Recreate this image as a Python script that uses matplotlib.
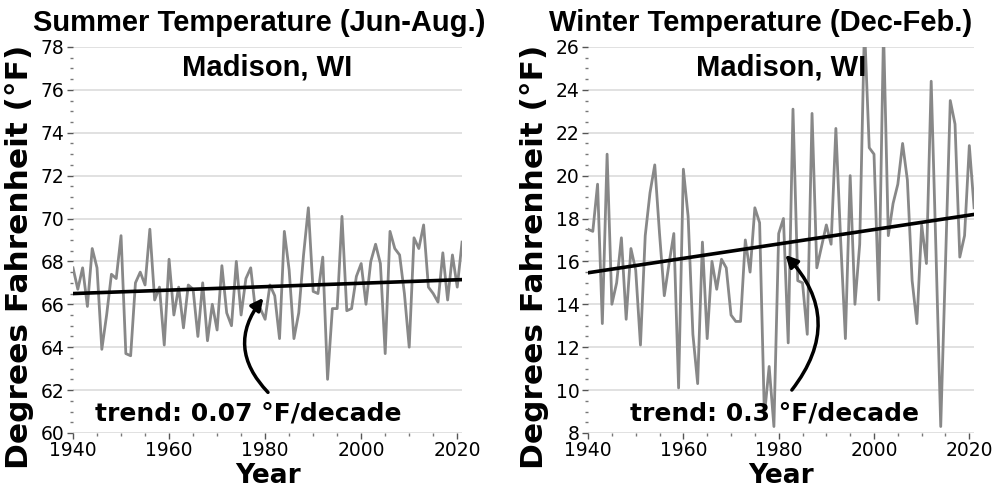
import numpy as np
import matplotlib
matplotlib.use("Agg")
import matplotlib.pyplot as plt
from matplotlib.ticker import MultipleLocator

# data (annual means, deg F)
years = list(range(1940, 2022))

summer_temp = [
    67.7, 66.7, 67.7, 65.9, 68.6, 67.7, 63.9, 65.5, 67.4, 67.2,
    69.2, 63.7, 63.6, 67.0, 67.5, 66.9, 69.5, 66.2, 66.8, 64.1,
    68.1, 65.5, 66.8, 64.9, 66.9, 66.7, 64.5, 67.0, 64.3, 66.0,
    64.8, 67.8, 65.6, 65.0, 68.0, 65.5, 67.2, 67.7, 65.7, 65.8,
    65.3, 66.9, 66.4, 64.4, 69.4, 67.6, 64.4, 65.6, 68.3, 70.5,
    66.6, 66.5, 68.2, 62.5, 65.8, 65.8, 70.1, 65.7, 65.8, 67.3,
    67.9, 66.0, 68.0, 68.8, 67.9, 63.7, 69.4, 68.6, 68.3, 66.5,
    64.0, 69.1, 68.6, 69.7, 66.8, 66.5, 66.1, 68.4, 66.2, 68.3,
    66.8, 68.9,
]

winter_temp = [
    17.5, 17.4, 19.6, 13.1, 21.0, 14.0, 15.0, 17.1, 13.3, 16.6,
    15.6, 12.1, 17.2, 19.2, 20.5, 17.3, 14.4, 15.9, 17.3, 10.1,
    20.3, 18.1, 12.6, 10.3, 16.9, 12.4, 16.0, 14.7, 16.1, 15.7,
    13.5, 13.2, 13.2, 17.0, 15.5, 18.5, 17.8, 8.8, 11.1, 8.3,
    17.3, 18.0, 12.2, 23.1, 15.1, 15.0, 12.6, 22.9, 15.7, 16.7,
    17.7, 16.8, 22.2, 17.0, 12.4, 20.0, 14.0, 16.8, 27.0, 21.3,
    21.0, 14.2, 26.8, 17.2, 18.7, 19.6, 21.5, 19.8, 15.1, 13.1,
    17.7, 15.9, 24.4, 16.5, 8.3, 15.9, 23.5, 22.4, 16.2, 17.2,
    21.4, 18.5,
]

# linear trend lines (start / end values at 1940 and 2021)
summer_trend = [66.5, 67.15]
winter_trend = [15.47, 18.19]

panels = [
    dict(vals=summer_temp, trend=summer_trend, ylim=(60, 78),
         title="Summer Temperature (Jun-Aug.)", label="trend: 0.07 \u00b0F/decade",
         rect=[0.0733, 0.120, 0.3906, 0.7846], title_x=0.260,
         txt=(1944.6, 60.93), arr_to=(1980, 66.4), arr_from=(1981, 61.8), rad=-0.45),
    dict(vals=winter_temp, trend=winter_trend, ylim=(8, 26),
         title="Winter Temperature (Dec-Feb.)", label="trend: 0.3 \u00b0F/decade",
         rect=[0.5904, 0.120, 0.3876, 0.7846], title_x=0.764,
         txt=(1948.8, 8.93), arr_to=(1981, 16.4), arr_from=(1982.4, 9.9), rad=0.44),
]

plt.rcParams['font.family'] = ['DejaVu Sans']

fig = plt.figure(figsize=(9.96, 4.92), dpi=100)

for p in panels:
    ax = fig.add_axes(p['rect'])
    ax.plot(years, p['vals'], color='#888888', lw=2.0, zorder=2)
    ax.plot([years[0], years[-1]], p['trend'], color='black', lw=2.6, zorder=3)

    ax.set_xlim(1940, 2021)
    ax.set_ylim(*p['ylim'])
    ax.xaxis.set_major_locator(MultipleLocator(20))
    ax.xaxis.set_minor_locator(MultipleLocator(5))
    ax.yaxis.set_major_locator(MultipleLocator(2))
    ax.yaxis.set_minor_locator(MultipleLocator(0.5))
    ax.grid(True, axis='y', which='major', color='#dcdcdc', lw=1.2, zorder=0)
    ax.set_axisbelow(True)
    for s in ax.spines.values():
        s.set_visible(False)
    ax.tick_params(which='major', length=4, width=1, color='#555555',
                   labelsize=13.5, pad=2)
    ax.tick_params(which='minor', length=2, width=1, color='#777777')

    ax.set_xlabel("Year", fontsize=19, fontweight='bold', labelpad=2)

    ax.text(0.5, 0.948, "Madison, WI", transform=ax.transAxes, ha='center',
            va='center', fontsize=21, fontweight='bold', family='Liberation Sans')
    ax.text(p['txt'][0], p['txt'][1], p['label'], ha='left', va='center',
            fontsize=18, fontweight='bold')
    ax.annotate("", xy=p['arr_to'], xytext=p['arr_from'],
                arrowprops=dict(arrowstyle='-|>', color='black', lw=2.5,
                                mutation_scale=18,
                                connectionstyle="arc3,rad=%s" % p['rad']))

    fig.text(p['title_x'], 0.953, p['title'], ha='center', va='center',
             fontsize=21, fontweight='bold', family='Liberation Sans')
    lx = p['rect'][0] - 54 / 996
    fig.text(lx, 1 - 257 / 492, "Degrees Fahrenheit (\u00b0F)", rotation=90,
             ha='center', va='center', fontsize=22.5, fontweight='bold')

fig.savefig("out.png", dpi=100)
